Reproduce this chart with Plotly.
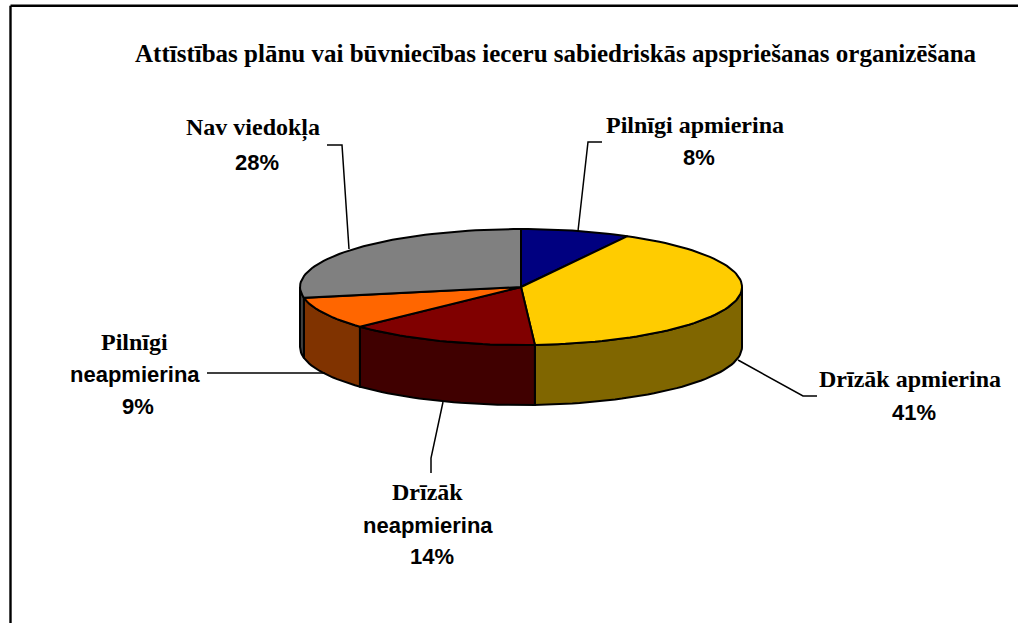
import numpy as np
import plotly.graph_objects as go

# ---- data ----
categories = ["Pilnīgi apmierina", "Drīzāk apmierina", "Drīzāk neapmierina",
              "Pilnīgi neapmierina", "Nav viedokļa"]
values = [8, 41, 14, 9, 28]
top_colors = ["#000080", "#FFCC00", "#800000", "#FF6600", "#808080"]
side_colors = ["#000040", "#806600", "#400000", "#803300", "#404040"]

W, H = 1018, 623
CX, CY, RX, RY, DEPTH = 521, 287, 221, 58, 60
SERIF = "Liberation Serif"
SANS = "Liberation Sans"
OUTLINE = dict(color="black", width=2)

fig = go.Figure()


def arc(t0, t1):
    """Angles are clockwise from twelve o'clock, in fractions of the whole pie."""
    n = max(2, int(abs(t1 - t0) * 180) + 2)
    th = np.linspace(t0, t1, n) * 2 * np.pi
    return CX + RX * np.sin(th), CY - RY * np.cos(th)


ends = np.cumsum(values) / sum(values)
starts = np.concatenate([[0], ends[:-1]])

# side walls (only the front half of the rim is visible)
for s, e, c in zip(starts, ends, side_colors):
    a, b = max(s, 0.25), min(e, 0.75)
    if b <= a:
        continue
    x, y = arc(a, b)
    fig.add_trace(go.Scatter(
        x=np.concatenate([x, x[::-1], x[:1]]),
        y=np.concatenate([y, y[::-1] + DEPTH, y[:1]]),
        mode="lines", fill="toself", fillcolor=c, line=OUTLINE,
        hoverinfo="skip", showlegend=False))

# top faces
for s, e, c, name, v in zip(starts, ends, top_colors, categories, values):
    x, y = arc(s, e)
    fig.add_trace(go.Scatter(
        x=np.concatenate([[CX], x, [CX]]),
        y=np.concatenate([[CY], y, [CY]]),
        mode="lines", fill="toself", fillcolor=c, line=OUTLINE,
        name=name, text=f"{name}: {v}%", hoverinfo="text", showlegend=False))

# leader lines
leaders = [
    ([327, 342, 349], [145, 145, 249]),
    ([602, 588, 578], [142, 142, 231]),
    ([738, 803, 817], [360, 396, 396]),
    ([207, 325], [373, 373]),
    ([443, 431, 431], [402, 458, 473]),
]
for lx, ly in leaders:
    fig.add_trace(go.Scatter(x=lx, y=ly, mode="lines",
                             line=dict(color="black", width=1.5),
                             hoverinfo="skip", showlegend=False))


def label(text, x, y, family, size):
    fig.add_annotation(x=x, y=y, text=f"<b>{text}</b>", showarrow=False,
                       xanchor="center", yanchor="middle",
                       font=dict(family=family, size=size, color="black"))


S_SERIF, S_SANS = 24, 22
label("Attīstības plānu vai būvniecības ieceru sabiedriskās apspriešanas organizēšana",
      555.5, 53, SERIF, 25)
label("Nav viedokļa", 253, 128, SERIF, S_SERIF)
label(f"{values[4]}%", 257, 162, SANS, S_SANS)
label("Pilnīgi apmierina", 695, 125, SERIF, S_SERIF)
label(f"{values[0]}%", 699, 157, SANS, S_SANS)
label("Drīzāk apmierina", 910, 379, SERIF, S_SERIF)
label(f"{values[1]}%", 914, 412, SANS, S_SANS)
label("Pilnīgi", 134, 342, SERIF, S_SERIF)
label("neapmierina", 135, 374, SANS, S_SANS)
label(f"{values[3]}%", 138, 406, SANS, S_SANS)
label("Drīzāk", 427, 492, SERIF, S_SERIF)
label("neapmierina", 428, 525, SANS, S_SANS)
label(f"{values[2]}%", 432, 556, SANS, S_SANS)

# chart frame
fig.add_shape(type="line", xref="x", yref="y", x0=10.5, y0=5.7, x1=10.5, y1=H,
              line=dict(color="black", width=2.4))
fig.add_shape(type="line", xref="x", yref="y", x0=10.5, y0=5.7, x1=W, y1=5.7,
              line=dict(color="black", width=2.4))

fig.update_layout(
    width=W, height=H, autosize=False,
    margin=dict(l=0, r=0, t=0, b=0),
    paper_bgcolor="white", plot_bgcolor="white",
    xaxis=dict(range=[0, W], visible=False, fixedrange=True),
    yaxis=dict(range=[H, 0], visible=False, fixedrange=True),
)
fig.write_html("out.html", config=dict(displayModeBar=False),
               post_script="document.body.style.margin='0';document.body.style.overflow='hidden';")
